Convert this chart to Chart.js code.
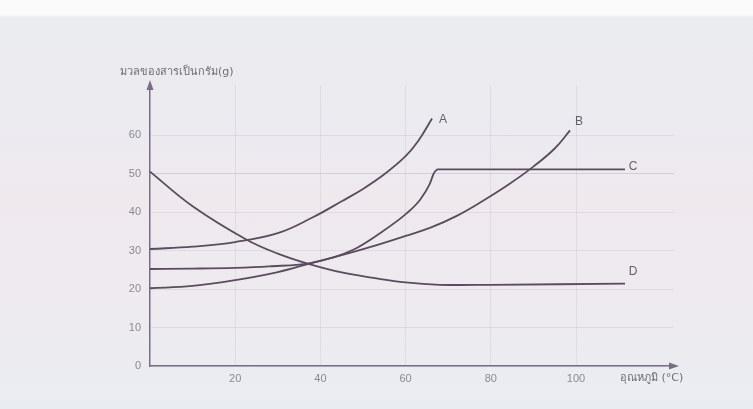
<!DOCTYPE html>
<html>
<head>
<meta charset="utf-8">
<script src="https://cdn.jsdelivr.net/npm/chart.js@4.4.1/dist/chart.umd.min.js"></script>
<style>
  html, body { margin: 0; padding: 0; }
  body {
    width: 753px; height: 409px; overflow: hidden;
    background: linear-gradient(180deg, #fbfbfc 0px, #fbfbfc 14px, #eaecef 18px, #eceaf0 150px, #efe9ee 190px, #eeeaef 300px, #e9edf1 409px);
  }
  #wrap { position: relative; width: 753px; height: 409px; }
</style>
</head>
<body>
<div id="wrap"><canvas id="myChart" width="753" height="409"></canvas></div>
<script>
// อุณหภูมิ (°C) และ มวล (g) ของแต่ละกราฟ
const tempA = [0, 10, 20, 30, 38, 45, 50, 55, 60, 63, 66.2];
const massA = [30.4, 31, 32.2, 34.5, 38.5, 42.8, 46, 49.8, 54.5, 58.5, 64.3];

const tempB = [0, 10, 20, 30, 38, 45, 52, 60, 66, 72, 78, 84, 90, 95, 98.6];
const massB = [20.2, 20.8, 22.3, 24.4, 26.8, 28.8, 31, 33.8, 36, 39, 42.8, 47, 51.8, 56.5, 61.2];

const tempC = [0, 10, 20, 28, 38, 47.7, 54, 60.3, 63.4, 65.7, 66.6, 67.6, 80, 111.5];
const massC = [25.2, 25.3, 25.5, 25.9, 26.8, 30.2, 34.5, 39.7, 43.2, 47.4, 50, 51.1, 51.1, 51.1];

const tempD = [0, 10, 22.7, 30, 37, 45, 52.4, 60, 68, 80, 111.5];
const massD = [50.5, 41.5, 32.8, 29.2, 26.6, 24.3, 22.9, 21.7, 21.1, 21.1, 21.4];

const curveNames = ['A', 'B', 'C', 'D'];
const xTicks = [20, 40, 60, 80, 100];
const yTicks = [0, 10, 20, 30, 40, 50, 60];
const yTitle = 'มวลของสารเป็นกรัม(g)';
const xTitle = 'อุณหภูมิ (°C)';

const lineColor = '#5a4c5e';
const axisColor = '#7b6c85';

function toPoints(xs, ys) {
  return xs.map(function(x, i) { return { x: x, y: ys[i] }; });
}

const series = [
  toPoints(tempA, massA),
  toPoints(tempB, massB),
  toPoints(tempC, massC),
  toPoints(tempD, massD)
];

// ตำแหน่งตัวอักษรกำกับกราฟ (ออฟเซ็ตจากจุดสุดท้าย เป็นพิกเซล)
const labelOffsets = [[11, 1], [9, -9], [8, -3], [8, -12]];

const extras = {
  id: 'extras',
  afterDraw: function(chart) {
    const c = chart.ctx;
    const xs = chart.scales.x, ys = chart.scales.y;
    const x0 = xs.left, y0 = ys.bottom;
    c.save();
    // หัวลูกศรของแกน
    c.fillStyle = axisColor;
    c.beginPath();
    c.moveTo(x0, ys.top - 5);
    c.lineTo(x0 - 3.5, ys.top + 5);
    c.lineTo(x0 + 3.5, ys.top + 5);
    c.closePath();
    c.fill();
    c.beginPath();
    c.moveTo(xs.right + 5, y0);
    c.lineTo(xs.right - 5, y0 - 3.5);
    c.lineTo(xs.right - 5, y0 + 3.5);
    c.closePath();
    c.fill();

    // ชื่อแกน
    c.fillStyle = '#6d6d72';
    c.font = '11px "DejaVu Sans", sans-serif';
    c.textBaseline = 'middle';
    c.textAlign = 'left';
    c.fillText(yTitle, 120, 72);
    c.fillText(xTitle, 620, 378);

    // ตัวอักษร A B C D
    c.font = '12px "Liberation Sans", Arial, sans-serif';
    c.fillStyle = '#626068';
    series.forEach(function(pts, i) {
      const last = pts[pts.length - 1];
      const px = xs.getPixelForValue(last.x) + labelOffsets[i][0];
      const py = ys.getPixelForValue(last.y) + labelOffsets[i][1];
      c.textAlign = 'center';
      c.fillText(curveNames[i], px, py);
    });
    c.restore();
  }
};

const ctx = document.getElementById('myChart').getContext('2d');
const myChart = new Chart(ctx, {
  type: 'line',
  data: {
    datasets: series.map(function(pts, i) {
      return {
        label: curveNames[i],
        data: pts,
        borderColor: lineColor,
        borderWidth: 1.8,
        pointRadius: 0,
        fill: false,
        // C มีจุดหักเป็นเส้นตรง ใช้ monotone; เส้นอื่นใช้ความโค้งปกติ
        cubicInterpolationMode: curveNames[i] === 'C' ? 'monotone' : 'default',
        tension: 0.4
      };
    })
  },
  options: {
    responsive: false,
    animation: false,
    layout: { padding: { top: 85, right: 79, bottom: 0, left: 0 } },
    plugins: { legend: { display: false }, tooltip: { enabled: false } },
    scales: {
      x: {
        type: 'linear',
        min: 0,
        max: 123,
        afterFit: function(s) { s.height = 43; },
        afterBuildTicks: function(s) { s.ticks = xTicks.map(function(v) { return { value: v }; }); },
        border: { color: axisColor, width: 1.5 },
        grid: { color: 'rgba(150,150,175,0.16)', drawTicks: false },
        ticks: { color: '#8a8a90', padding: 6, font: { size: 11, family: '"Liberation Sans", Arial' } }
      },
      y: {
        type: 'linear',
        min: 0,
        max: 73,
        afterFit: function(s) { s.width = 150; },
        afterBuildTicks: function(s) { s.ticks = yTicks.map(function(v) { return { value: v }; }); },
        border: { color: axisColor, width: 1.5 },
        grid: {
          drawTicks: false,
          color: function(g) { return g.tick && g.tick.value === 50 ? 'rgba(160,140,165,0.3)' : 'rgba(150,150,175,0.18)'; }
        },
        ticks: { color: '#8a8a90', padding: 9, font: { size: 11, family: '"Liberation Sans", Arial' } }
      }
    }
  },
  plugins: [extras]
});
</script>
</body>
</html>
